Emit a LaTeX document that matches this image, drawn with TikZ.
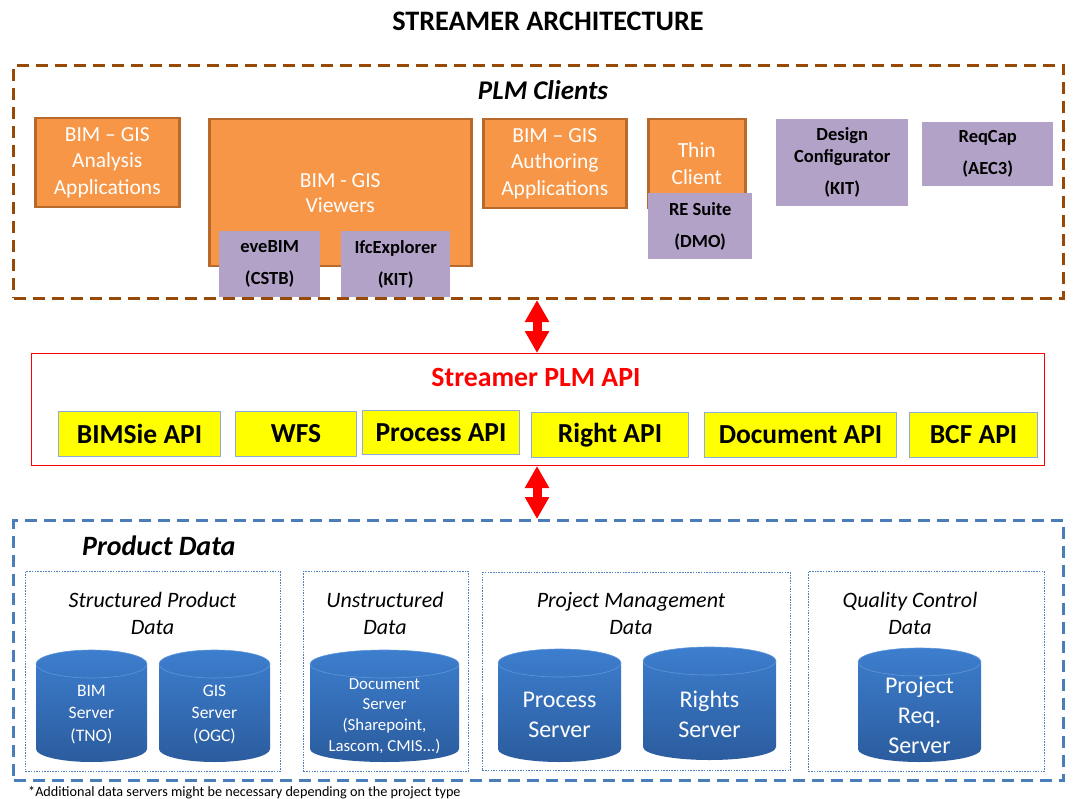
\documentclass[tikz,border=0pt]{standalone}
\usepackage{fontspec}
\setmainfont{Carlito}
\usetikzlibrary{arrows.meta,calc}

\definecolor{orangeFill}{HTML}{F79646}
\definecolor{orangeLine}{HTML}{B8692C}
\definecolor{lavender}{HTML}{B2A2C7}
\definecolor{brownDash}{HTML}{984807}
\definecolor{blueDash}{HTML}{4A7EBB}
\definecolor{subBlue}{HTML}{4F81BD}
\definecolor{apiYellow}{HTML}{FFFF00}
\definecolor{apiEdge}{HTML}{8FAADC}
\definecolor{cylTop}{HTML}{3D7ECE}
\definecolor{cylBot}{HTML}{2B5C9E}
\definecolor{cylRim}{HTML}{5F96DA}

\newcommand{\fsz}[2]{\fontsize{#1}{#2}\selectfont}

% database cylinder: centre x, top y, bottom y, half width
\newcommand{\dbcyl}[4]{%
  \shade[top color=cylTop, bottom color=cylBot]
    ({#1-#4},{#2+14}) arc[start angle=180,end angle=0,x radius=#4pt,y radius=14pt]
    -- ({#1+#4},{#3-13}) arc[start angle=0,end angle=-180,x radius=#4pt,y radius=13pt] -- cycle;
  \draw[cylRim, line width=0.6pt] (#1,{#2+14}) ellipse[x radius=#4pt, y radius=14pt];
}

\begin{document}
\begin{tikzpicture}[x=1pt,y=-1pt,
  appbox/.style={draw=orangeLine, line width=2.5pt, fill=orangeFill, text=white,
    align=center, font=\fsz{21.5}{26.5}, anchor=north west, inner sep=0pt},
  toolbox/.style={fill=lavender, text=black, align=center,
    font=\bfseries\fsz{18.5}{32}, anchor=north west, inner sep=0pt},
  apibox/.style={draw=apiEdge, line width=1pt, fill=apiYellow,
    font=\bfseries\fsz{27.5}{27.5}, anchor=north west, inner sep=0pt},
  groupbox/.style={draw=subBlue, line width=0.8pt, dash pattern=on 1.5pt off 1.2pt,
    anchor=north west, inner sep=0pt},
  zoneframe/.style={line width=3pt, dash pattern=on 12pt off 7pt,
    anchor=north west, inner sep=0pt},
  grouptitle/.style={font=\itshape\fsz{22}{27}, align=center},
  dbtext/.style={text=white, align=center, inner sep=0pt},
  dblarrow/.style={draw=red, line width=9pt,
    {Triangle[width=23pt,length=22pt]}-{Triangle[width=23pt,length=22pt]}}
]
\useasboundingbox (0,0) rectangle (1075,799);

\node[font=\bfseries\fsz{28.2}{28.2}] (title) at (548,21) {STREAMER ARCHITECTURE};

% ---------------- PLM clients ----------------
\node[font=\bfseries\itshape\fsz{27}{27}] (plmtitle) at (543,90) {PLM Clients};

\node[appbox, minimum width=144pt, minimum height=89pt] (analysis) at (34,117)
  {BIM -- GIS\\Analysis\\Applications};
\node[appbox, font=\fsz{21.5}{25}, minimum width=262pt, minimum height=147pt] (viewers) at (208,118)
  {BIM - GIS\\Viewers};
\node[toolbox, minimum width=101pt, minimum height=66pt] (evebim) at (219,231)
  {eveBIM\\(CSTB)};
\node[toolbox, minimum width=109pt, minimum height=66pt] (ifcexp) at (341,231)
  {IfcExplorer\\(KIT)};
\node[appbox, minimum width=143pt, minimum height=89pt] (authoring) at (482,118)
  {BIM -- GIS\\Authoring\\Applications};
\node[appbox, font=\fsz{21.5}{27}, minimum width=97pt, minimum height=89pt] (thin) at (647,118)
  {Thin\\Client};
\node[toolbox, minimum width=104pt, minimum height=66pt] (resuite) at (648,193)
  {RE Suite\\(DMO)};
\node[toolbox, minimum width=132pt, minimum height=87pt] (design) at (776,119)
  {Design\\[-10pt]Configurator\\(KIT)};
\node[toolbox, minimum width=131pt, minimum height=64pt] (reqcap) at (922,122)
  {ReqCap\\(AEC3)};

\node[zoneframe, draw=brownDash, minimum width=1050pt, minimum height=233pt] (plm) at (12,64) {};

% ---------------- API layer ----------------
\node[draw=red, line width=1pt, anchor=north west, inner sep=0pt,
  minimum width=1013pt, minimum height=112pt] (api) at (31,353) {};
\node[font=\bfseries\fsz{27.8}{27.8}, text=red] (apititle) at (536,377) {Streamer PLM API};

\node[apibox, minimum width=162pt, minimum height=45pt] (bimsie) at (58,411) {BIMSie API};
\node[apibox, minimum width=121pt, minimum height=45pt] (wfs) at (235,411) {WFS};
\node[apibox, minimum width=157pt, minimum height=44pt] (procapi) at (362,410) {Process API};
\node[apibox, minimum width=157pt, minimum height=45pt] (rightapi) at (531,412) {Right API};
\node[apibox, minimum width=192pt, minimum height=45pt] (docapi) at (704,412) {Document API};
\node[apibox, minimum width=128pt, minimum height=45pt] (bcfapi) at (909,412) {BCF API};

% ---------------- Product data ----------------
\node[zoneframe, draw=blueDash, minimum width=1050pt, minimum height=260pt] (pd) at (12,519) {};
\node[font=\bfseries\itshape\fsz{28}{28}, anchor=west, inner sep=0pt] (pdtitle) at (82,546) {Product Data};

\node[groupbox, minimum width=255pt, minimum height=200pt] (gstruct) at (25,571) {};
\node[groupbox, minimum width=165pt, minimum height=200pt] (gunstruct) at (303,571) {};
\node[groupbox, minimum width=308pt, minimum height=198pt] (gpm) at (482,572) {};
\node[groupbox, minimum width=236pt, minimum height=200pt] (gqc) at (808,571) {};

\node[grouptitle] (tstruct) at (152.5,613.5) {Structured Product\\Data};
\node[grouptitle] (tunstruct) at (385,613.5) {Unstructured\\Data};
\node[grouptitle] (tpm) at (631,613.5) {Project Management\\Data};
\node[grouptitle] (tqc) at (910,613.5) {Quality Control\\Data};

\dbcyl{91.5}{650}{762}{55.5}
\dbcyl{214.5}{650}{762}{55.5}
\dbcyl{384.5}{650}{762}{74.5}
\dbcyl{559.5}{649}{762}{61.5}
\dbcyl{709.5}{647}{760}{66.5}
\dbcyl{919.5}{648}{762}{61.5}

\node[dbtext, font=\fsz{17.5}{22.5}] (bimsrv) at (91.5,714.5) {BIM\\Server\\(TNO)};
\node[dbtext, font=\fsz{17.5}{22.5}] (gissrv) at (214.5,714.5) {GIS\\Server\\(OGC)};
\node[dbtext, font=\fsz{16.8}{20.7}] (docsrv) at (384.5,716) {Document\\Server\\(Sharepoint,\\Lascom, CMIS...)};
\node[dbtext, font=\fsz{24}{29.5}] (procsrv) at (559.5,715) {Process\\Server};
\node[dbtext, font=\fsz{24}{29.5}] (rightsrv) at (709.5,714) {Rights\\Server};
\node[dbtext, font=\fsz{24}{30}] (reqsrv) at (919.5,715) {Project\\Req.\\Server};

\node[anchor=west, inner sep=0pt, font=\fsz{14.2}{14.2}] (note) at (28,793)
  {*Additional data servers might be necessary depending on the project type};

% ---------------- links between layers ----------------
\coordinate (ax) at (537,0);
\draw[dblarrow] (plm.south -| ax) -- (api.north -| ax);
\draw[dblarrow] (api.south -| ax) -- (pd.north -| ax);
\end{tikzpicture}
\end{document}
